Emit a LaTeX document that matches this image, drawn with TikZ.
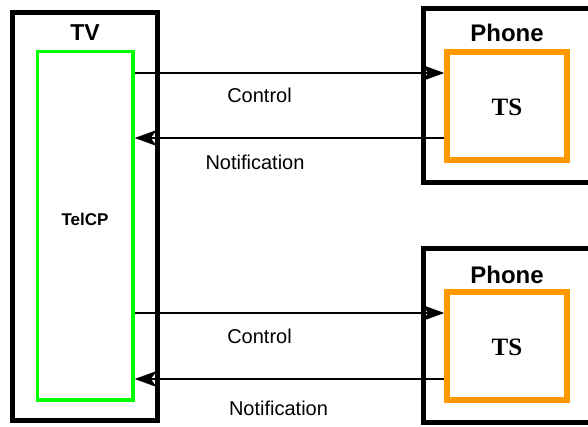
\documentclass[tikz,border=0pt]{standalone}
\usepackage{fontspec}
\setmainfont{Liberation Serif}
\setsansfont{Liberation Sans}
\usetikzlibrary{arrows.meta}

\tikzset{
	device/.style={draw, line width=5pt, minimum width=#1},
	telcpbox/.style={draw=green, line width=3.5pt, minimum width=95.5pt, minimum height=348.5pt},
	tsbox/.style={draw=tsorange, line width=5.5pt, minimum width=120pt, minimum height=108pt},
	title/.style={font=\sffamily\bfseries\fontsize{23}{26}\selectfont},
	msg/.style={line width=1.3pt, -{Stealth[length=22pt, width=16pt, inset=6pt]}},
	msglabel/.style={font=\sffamily\fontsize{20}{24}\selectfont}
}
\definecolor{tsorange}{HTML}{FF9900}

\begin{document}
\begin{tikzpicture}[x=1pt, y=-1pt]
	\clip (0,0) rectangle (588,426);
	\fill [white] (0,0) rectangle (588,426);

	% tv with telcp
	\node [device=144.5pt, minimum height=407.5pt] at (84.75,216.25) (tv) {};
	\node [title] at (85,33) (tvlabel) {TV};
	\node [telcpbox] at (85.25,225.75) (telcp) {};
	\node [font=\sffamily\bfseries\fontsize{17}{20}\selectfont] at (85,219) (telcplabel) {TelCP};

	% phone 1 with ts
	\node [device=277pt, minimum height=174pt] at (561.5,95) (phoneA) {};
	\node [title, font=\sffamily\bfseries\fontsize{24}{28}\selectfont] at (507,33) (phoneAlabel) {Phone};
	\node [tsbox] at (507,106) (tsA) {};
	\node [font=\rmfamily\bfseries\fontsize{25}{30}\selectfont] at (507,107) (tsAlabel) {TS};

	% phone 2 with ts
	\node [device=277pt, minimum height=174pt] at (561.5,335) (phoneB) {};
	\node [title, font=\sffamily\bfseries\fontsize{24}{28}\selectfont] at (507,275) (phoneBlabel) {Phone};
	\node [tsbox] at (507,346) (tsB) {};
	\node [font=\rmfamily\bfseries\fontsize{25}{30}\selectfont] at (507,347) (tsBlabel) {TS};

	% telcp to phone 1
	\draw [msg] (telcp.east |- 0,73) -- (tsA.west |- 0,73);
	\node [msglabel] at (259.5,95.5) (ctrlA) {Control};
	\draw [msg] (tsA.west |- 0,138) -- (telcp.east |- 0,138);
	\node [msglabel] at (255,162) (notifA) {Notification};

	% telcp to phone 2
	\draw [msg] (telcp.east |- 0,313) -- (tsB.west |- 0,313);
	\node [msglabel] at (259.5,336) (ctrlB) {Control};
	\draw [msg] (tsB.west |- 0,379) -- (telcp.east |- 0,379);
	\node [msglabel] at (278.5,408) (notifB) {Notification};

\end{tikzpicture}
\end{document}
